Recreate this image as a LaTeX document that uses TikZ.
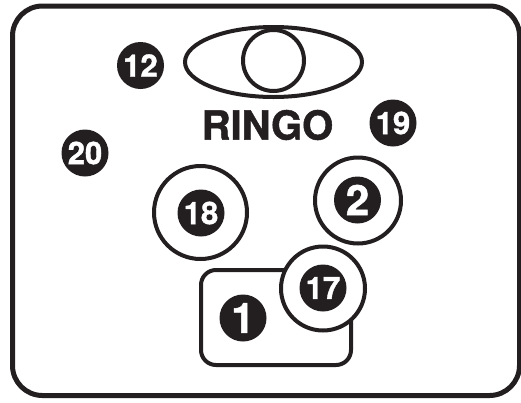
\documentclass[tikz,border=0pt]{standalone}
\usepackage{fontspec}
\newfontfamily\heros[BoldFont={TeX Gyre Heros Bold},BoldFeatures={FakeBold=1.2}]{TeX Gyre Heros}
\usepackage{xcolor}
\definecolor{ink}{RGB}{35,31,32}
\usetikzlibrary{shapes.geometric,positioning}

\begin{document}
\begin{tikzpicture}[
  x=1pt,y=-1pt,
  badge/.style={circle,fill=ink,text=white,inner sep=0pt,minimum size=47pt,font=\heros\bfseries\fontsize{31}{31}\selectfont},
  bigbadge/.style={badge,font=\heros\bfseries\fontsize{42}{42}\selectfont},
  ring/.style={circle,draw=ink,line width=4pt,fill=white,inner sep=0pt},
  outline/.style={draw=ink,line width=4pt}
]
  \useasboundingbox (0,0) rectangle (521,402);

  % Frame
  \draw[outline,line width=5pt,rounded corners=30pt] (12.5,6) rectangle (519.5,395.5);

  % Eye with name
  \node[outline,ellipse,minimum width=177pt,minimum height=70pt,inner sep=0pt] (eye) at (273.5,62) {};
  \node[ring,minimum size=61pt] (pupil) at (273.5,60.5) {};
  \node[font=\heros\bfseries\fontsize{40}{40}\selectfont,text=ink,inner sep=0pt] (ringo) at (267.5,125) {RINGO};

  % Loose badges
  \node[badge] (n12) at (140.5,65.5) {12};
  \node[badge] (n19) at (393,123) {19};
  \node[badge] (n20) at (85,153) {20};

  % Rings
  \node[ring,minimum size=93pt] (r18) at (200.5,212.5) {};
  \node[badge] (n18) at (201,213) {18};
  \node[ring,minimum size=86pt] (r2) at (358,200.5) {};
  \node[bigbadge] (n2) at (357.5,200) {2};

  % Box with ring on top
  \node[outline,rounded corners=15pt,minimum width=150pt,minimum height=95pt,inner sep=0pt] (box) at (276,317.5) {};
  \node[bigbadge] (n1) at (243,318) {1};
  \node[ring,minimum size=84pt] (r17) at (323,288.5) {};
  \node[badge] (n17) at (323,288) {17};
\end{tikzpicture}
\end{document}
